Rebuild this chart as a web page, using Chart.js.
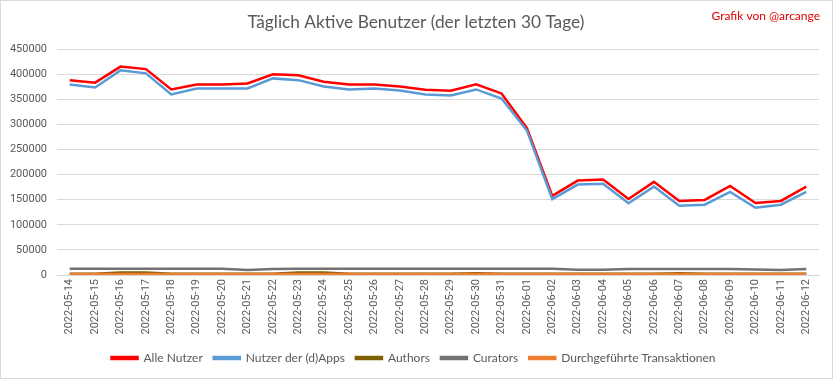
<!DOCTYPE html>
<html>
<head>
<meta charset="utf-8">
<script src="https://cdn.jsdelivr.net/npm/chart.js@4/dist/chart.umd.min.js"></script>
<style>
html,body{margin:0;padding:0;background:#fff;}
#wrap{width:833px;height:379px;position:relative;}
</style>
</head>
<body>
<div id="wrap"><canvas id="c" width="833" height="379"></canvas></div>
<script>
const categories = ["2022-05-14","2022-05-15","2022-05-16","2022-05-17","2022-05-18","2022-05-19","2022-05-20","2022-05-21","2022-05-22","2022-05-23","2022-05-24","2022-05-25","2022-05-26","2022-05-27","2022-05-28","2022-05-29","2022-05-30","2022-05-31","2022-06-01","2022-06-02","2022-06-03","2022-06-04","2022-06-05","2022-06-06","2022-06-07","2022-06-08","2022-06-09","2022-06-10","2022-06-11","2022-06-12"];
const alleNutzer = [388000,383000,415000,410000,369500,379500,379500,381500,399500,397500,385000,379500,379500,375500,369000,367000,379500,361500,292500,157500,188000,190000,151500,185500,147500,149500,177500,143500,147500,176000];
const dappsNutzer = [379500,373500,407500,401500,359500,371500,371500,371500,391500,388000,375500,369500,371500,367500,359500,357500,369500,351500,287700,151000,180000,181500,143000,176000,138000,140000,165500,134000,140000,165500];
const authors = [2500,2500,5000,5000,2500,2500,2500,2500,2500,5000,5000,2500,2500,2500,2500,2500,3500,2500,2500,2500,2500,2500,2500,2500,3500,2500,2500,2500,2500,2500];
const curators = [12500,12500,12500,12500,12500,12500,12500,10000,12000,12500,12500,12500,12500,12500,12500,12500,12500,12500,12500,12500,10500,10500,12000,12000,12000,12000,12000,11000,10000,12000];
const transaktionen = [1800,1800,1800,1800,1800,1800,1800,1800,1800,1800,1800,1800,1800,1800,1800,1800,1800,1800,1800,1800,1800,1800,1800,1800,1800,1800,1800,1800,1800,1800];
const yTicks = {min:0, max:450000, step:50000};
const titleText = "Täglich Aktive Benutzer (der letzten 30 Tage)";
const creditText = "Grafik von @arcange";

const FONT = "Lato, Roboto, sans-serif";
const TICKFONT = "Roboto, sans-serif";

const decor = {
  id:'decor',
  beforeDraw(chart){
    const ctx = chart.ctx;
    ctx.save();
    ctx.fillStyle = '#fff';
    ctx.fillRect(0,0,chart.width,chart.height);
    ctx.strokeStyle = '#d9d9d9';
    ctx.lineWidth = 1;
    ctx.strokeRect(0.5,0.5,chart.width-1,chart.height-1);
    ctx.restore();
  },
  afterDraw(chart){
    const ctx = chart.ctx;
    ctx.save();
    ctx.textBaseline = 'middle';
    ctx.fillStyle = '#595959';
    ctx.font = "17.3px " + FONT;
    ctx.textAlign = 'center';
    ctx.fillText(titleText, 416, 22);
    ctx.fillStyle = '#e00000';
    ctx.font = "12px " + FONT;
    ctx.textAlign = 'right';
    ctx.fillText(creditText, 820, 16);
    ctx.restore();
  }
};

function ds(label, data, color, order){
  return {label, data, borderColor:color, backgroundColor:color, borderWidth:2.5,
    pointRadius:0, pointHoverRadius:0, tension:0, fill:false, order};
}

new Chart(document.getElementById('c'), {
  type:'line',
  data:{
    labels: categories,
    datasets:[
      ds('Alle Nutzer', alleNutzer, '#ff0000', 4),
      ds('Nutzer der (d)Apps', dappsNutzer, '#5b9bd5', 3),
      ds('Authors', authors, '#7f6000', 2),
      ds('Curators', curators, '#767171', 1),
      ds('Durchgeführte Transaktionen', transaktionen, '#ed7d31', 0)
    ]
  },
  options:{
    responsive:false,
    animation:false,
    devicePixelRatio:1,
    layout:{padding:{left:8,right:14,top:49,bottom:5}},
    plugins:{
      legend:{position:'bottom',
        labels:{boxWidth:26, boxHeight:2, padding:11, color:'#595959', font:{family:FONT,size:12},
          sort:(a,b)=>a.datasetIndex-b.datasetIndex}},
      tooltip:{enabled:false},
      title:{display:false}
    },
    scales:{
      x:{
        offset:true,
        grid:{display:false, drawTicks:false},
        border:{color:'#d9d9d9', width:1},
        ticks:{color:'#595959', font:{family:TICKFONT,size:11}, maxRotation:90, minRotation:90, autoSkip:false, padding:4},
        afterFit(s){ s.height = 66; }
      },
      y:{
        min:yTicks.min, max:yTicks.max,
        grid:{color:'#d9d9d9', drawTicks:false},
        border:{display:false},
        ticks:{stepSize:yTicks.step, color:'#595959', font:{family:TICKFONT,size:11}, padding:10,
          callback:(v)=>String(v)},
        afterFit(s){ s.width = 49; }
      }
    }
  },
  plugins:[decor]
});
</script>
</body>
</html>
